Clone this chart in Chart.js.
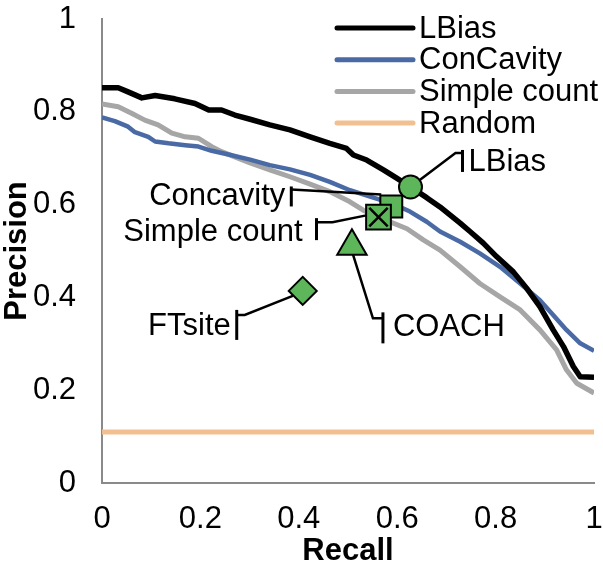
<!DOCTYPE html>
<html>
<head>
<meta charset="utf-8">
<script src="https://cdn.jsdelivr.net/npm/chart.js@4.4.1/dist/chart.umd.min.js"></script>
<style>
  html, body { margin: 0; padding: 0; background: #fff; overflow: hidden; }
  canvas { display: block; }
</style>
</head>
<body>
<canvas id="chart" width="603" height="572"></canvas>
<script>
const recallLBias = [0, 0.033, 0.053, 0.081, 0.108, 0.148, 0.189, 0.203, 0.217, 0.243, 0.27, 0.301, 0.341, 0.382, 0.423, 0.463, 0.497, 0.511, 0.538, 0.572, 0.599, 0.627, 0.66, 0.687, 0.728, 0.748, 0.775, 0.802, 0.836, 0.863, 0.89, 0.917, 0.938, 0.958, 0.972, 1.0];
const precisionLBias = [0.852, 0.852, 0.843, 0.83, 0.835, 0.828, 0.818, 0.811, 0.804, 0.804, 0.793, 0.784, 0.772, 0.761, 0.746, 0.732, 0.721, 0.707, 0.696, 0.675, 0.657, 0.638, 0.615, 0.595, 0.56, 0.542, 0.517, 0.488, 0.455, 0.42, 0.38, 0.33, 0.294, 0.251, 0.229, 0.228];

const recallConCavity = [0, 0.026, 0.053, 0.067, 0.094, 0.108, 0.135, 0.169, 0.196, 0.223, 0.257, 0.301, 0.341, 0.382, 0.423, 0.463, 0.504, 0.545, 0.59, 0.626, 0.66, 0.687, 0.728, 0.768, 0.809, 0.85, 0.89, 0.917, 0.944, 0.972, 1.0];
const precisionConCavity = [0.788, 0.78, 0.768, 0.756, 0.746, 0.736, 0.732, 0.728, 0.725, 0.716, 0.708, 0.697, 0.685, 0.676, 0.664, 0.649, 0.631, 0.617, 0.602, 0.585, 0.563, 0.542, 0.52, 0.495, 0.466, 0.43, 0.394, 0.362, 0.33, 0.301, 0.285];

const recallSimple = [0, 0.033, 0.06, 0.087, 0.114, 0.142, 0.169, 0.196, 0.223, 0.243, 0.27, 0.301, 0.341, 0.382, 0.423, 0.463, 0.504, 0.531, 0.562, 0.62, 0.653, 0.687, 0.728, 0.768, 0.809, 0.85, 0.89, 0.924, 0.944, 0.965, 1.0];
const precisionSimple = [0.817, 0.811, 0.797, 0.782, 0.772, 0.754, 0.746, 0.743, 0.725, 0.714, 0.703, 0.69, 0.675, 0.66, 0.644, 0.628, 0.606, 0.588, 0.573, 0.548, 0.524, 0.502, 0.466, 0.43, 0.401, 0.373, 0.33, 0.287, 0.244, 0.215, 0.194];

const recallRandom = [0, 1];
const precisionRandom = [0.11, 0.11];

// single operating points of the methods
const pointLBias = { x: 0.627, y: 0.638 };
const pointConcavity = { x: 0.588, y: 0.596 };
const pointSimple = { x: 0.562, y: 0.573 };
const pointCOACH = { x: 0.508, y: 0.51 };
const pointFTsite = { x: 0.408, y: 0.414 };

const tickLabels = ["0", "0.2", "0.4", "0.6", "0.8", "1"];

const FONT = "'Liberation Sans', Arial, sans-serif";
const FONT_SIZE = 31;
const GREEN = "#5db65a";

const toPoints = (xs, ys) => xs.map((x, i) => ({ x: x, y: ys[i] }));

const lineSet = (label, xs, ys, color, width) => ({
  label: label,
  data: toPoints(xs, ys),
  showLine: true,
  borderColor: color,
  backgroundColor: color,
  borderWidth: width,
  pointRadius: 0,
  pointHoverRadius: 0,
  borderJoinStyle: "round",
  order: 10,
  isLegend: true
});

const markerSet = (label, pt, style, radius, order, extra) =>
  Object.assign(
    {
      label: label,
      data: [pt],
      pointStyle: style,
      pointRadius: radius,
      pointBackgroundColor: GREEN,
      pointBorderColor: "#000",
      pointBorderWidth: 2,
      showLine: false,
      order: order
    },
    extra || {}
  );

// leader line offsets (pixels relative to the marker) for each data label
const callouts = [
  { text: "LBias", pt: pointLBias, path: [[0, 0], [45, -34], [52, -34]], bar: [52, -37, -15], tx: 58, ty: -25, align: "left" },
  { text: "Concavity", pt: pointConcavity, path: [[-10, -12], [-100, -17]], bar: [-100, -20, 0], tx: -106, ty: -10, align: "right" },
  { text: "Simple count", pt: pointSimple, path: [[-11, -2], [-46, 5], [-62, 5]], bar: [-62, 1, 23], tx: -76, ty: 15, align: "right" },
  { text: "COACH", pt: pointCOACH, path: [[1, 8], [21, 72], [31, 72]], bar: [31, 66, 97], tx: 41, ty: 81, align: "left" },
  { text: "FTsite", pt: pointFTsite, path: [[-10, 5], [-58, 24], [-66, 24]], bar: [-66, 19, 49], tx: -72, ty: 36, align: "right" }
];

const calloutPlugin = {
  id: "callouts",
  afterDatasetDraw(chart, args) {
    if (args.index !== 0) return;
    const ctx = chart.ctx;
    const xs = chart.scales.x;
    const ys = chart.scales.y;
    ctx.save();
    ctx.strokeStyle = "#000";
    ctx.fillStyle = "#000";
    ctx.font = FONT_SIZE + "px " + FONT;
    ctx.textBaseline = "middle";
    callouts.forEach(c => {
      const px = xs.getPixelForValue(c.pt.x);
      const py = ys.getPixelForValue(c.pt.y);
      ctx.lineWidth = 2.5;
      ctx.beginPath();
      c.path.forEach((p, i) => {
        if (i === 0) ctx.moveTo(px + p[0], py + p[1]);
        else ctx.lineTo(px + p[0], py + p[1]);
      });
      ctx.stroke();
      ctx.lineWidth = 3;
      ctx.beginPath();
      ctx.moveTo(px + c.bar[0], py + c.bar[1]);
      ctx.lineTo(px + c.bar[0], py + c.bar[2]);
      ctx.stroke();
      ctx.textAlign = c.align;
      ctx.fillText(c.text, px + c.tx, py + c.ty);
    });
    ctx.restore();
  }
};

const legendPlugin = {
  id: "sideLegend",
  afterDraw(chart) {
    const ctx = chart.ctx;
    const items = chart.data.datasets.filter(d => d.isLegend);
    ctx.save();
    ctx.font = FONT_SIZE + "px " + FONT;
    ctx.textBaseline = "middle";
    ctx.textAlign = "left";
    items.forEach((d, i) => {
      const y = 28 + i * 31.7;
      ctx.strokeStyle = d.borderColor;
      ctx.lineWidth = 5;
      ctx.lineCap = "round";
      ctx.beginPath();
      ctx.moveTo(337, y);
      ctx.lineTo(413, y);
      ctx.stroke();
      ctx.fillStyle = "#000";
      ctx.fillText(d.label, 419, y + 1);
    });
    ctx.restore();
  }
};

new Chart(document.getElementById("chart"), {
  type: "scatter",
  data: {
    datasets: [
      lineSet("LBias", recallLBias, precisionLBias, "#000000", 5.5),
      lineSet("ConCavity", recallConCavity, precisionConCavity, "#4a6aa6", 4.5),
      lineSet("Simple count", recallSimple, precisionSimple, "#a6a6a6", 5),
      lineSet("Random", recallRandom, precisionRandom, "#f2bf91", 5),
      markerSet("FTsite", pointFTsite, "rectRot", 14, 6),
      markerSet("COACH", pointCOACH, "triangle", 17, 5),
      markerSet("Concavity", pointConcavity, "rect", 15.5, 4),
      markerSet("Simple count", pointSimple, "rect", 17.5, 3),
      markerSet("Simple count", pointSimple, "crossRot", 13, 2, { pointBorderWidth: 2.5 }),
      markerSet("LBias", pointLBias, "circle", 11.5, 1)
    ]
  },
  options: {
    responsive: false,
    animation: false,
    devicePixelRatio: 1,
    layout: { autoPadding: false, padding: { top: 19, right: 9, bottom: 0, left: 0 } },
    plugins: {
      legend: { display: false },
      tooltip: { enabled: false }
    },
    scales: {
      x: {
        type: "linear",
        min: 0,
        max: 1,
        afterFit: s => { s.height = 89; s.paddingLeft = 0; s.paddingRight = 0; },
        grid: { display: false, drawTicks: false },
        border: { display: true, color: "#8a8a8a", width: 2 },
        ticks: {
          stepSize: 0.2,
          padding: 18,
          color: "#000",
          font: { family: FONT, size: FONT_SIZE },
          callback: (v, i) => tickLabels[i]
        },
        title: {
          display: true,
          text: "Recall",
          color: "#000",
          font: { family: FONT, size: FONT_SIZE, weight: "bold" },
          padding: { top: 0, bottom: 2 }
        }
      },
      y: {
        type: "linear",
        min: 0,
        max: 1,
        afterFit: s => { s.width = 102; s.paddingTop = 0; s.paddingBottom = 0; },
        grid: { display: false, drawTicks: false },
        border: { display: true, color: "#8a8a8a", width: 2 },
        ticks: {
          stepSize: 0.2,
          padding: 26,
          color: "#000",
          font: { family: FONT, size: FONT_SIZE },
          callback: (v, i) => tickLabels[i]
        },
        title: {
          display: true,
          text: "Precision",
          color: "#000",
          font: { family: FONT, size: FONT_SIZE, weight: "bold", lineHeight: 1.1 },
          padding: { top: 0, bottom: 0 }
        }
      }
    }
  },
  plugins: [calloutPlugin, legendPlugin]
});
</script>
</body>
</html>
